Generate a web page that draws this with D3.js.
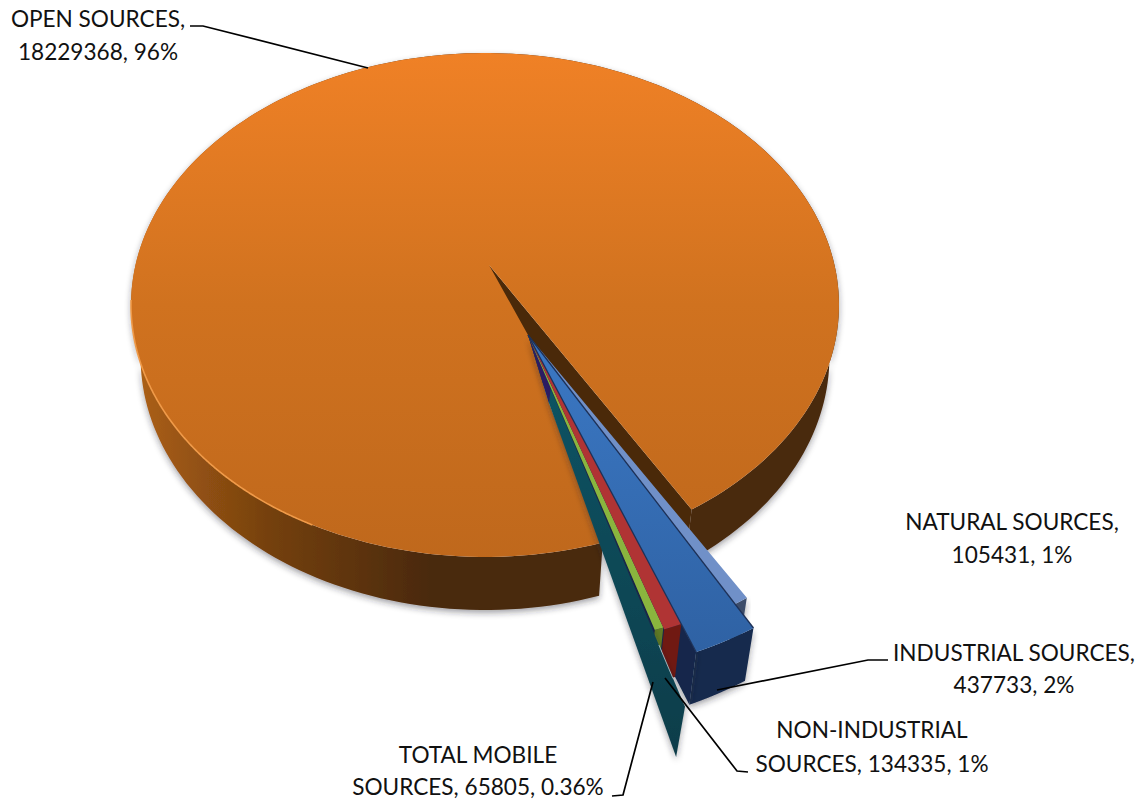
<!DOCTYPE html>
<html>
<head>
<meta charset="utf-8">
<script src="https://cdn.jsdelivr.net/npm/d3@7/dist/d3.min.js"></script>
<style>
  html, body { margin: 0; padding: 0; background: #fff; }
  svg { display: block; }
  text { font-family: Lato, "Open Sans", sans-serif; font-size: 22.6px; fill: #111; text-anchor: middle; }
</style>
</head>
<body>
<svg id="chart" width="1138" height="802"></svg>
<script>
// Emission totals by source group, in the order they run clockwise round the pie.
const categories = ["NATURAL SOURCES", "INDUSTRIAL SOURCES", "NON-INDUSTRIAL SOURCES", "TOTAL MOBILE SOURCES", "OPEN SOURCES"];
const values = [105431, 437733, 134335, 65805, 18229368];
const labelLines = [
  ["NATURAL SOURCES,", "105431, 1%"],
  ["INDUSTRIAL SOURCES,", "437733, 2%"],
  ["NON-INDUSTRIAL", "SOURCES, 134335, 1%"],
  ["TOTAL MOBILE", "SOURCES, 65805, 0.36%"],
  ["OPEN SOURCES,", "18229368, 96%"]
];

// Perspective camera for the tilted disc: Y runs away from the viewer, d runs down the extrusion.
const cam = { cx: 489, cy: 265, k: 0.1587, kz: 0.027, sz: 54 };
const sxScale = d3.scaleLinear().domain([-1, 1]).range([-349.5, 349.5]);
const syScale = d3.scaleLinear().domain([-1, 1]).range([-245.6, 245.6]);
function project(X, Y, d = 0, shiftX = 0) {
  const w = 1 + cam.k * Y + cam.kz * d;
  return [cam.cx + shiftX + sxScale(X) / w, cam.cy - (syScale(Y) - cam.sz * d) / w];
}

// Pie layout, rotated so the small slices fall at the lower right.
const rad = deg => deg * Math.PI / 180;
const firstAngle = 149.3;
const arcs = d3.pie().value(d => d).sort(null)
  .startAngle(rad(firstAngle)).endAngle(rad(firstAngle + 360))(values);

// Offset and radius of each slice in disc units.
const burst = { X: 0.1068, Y: -0.2727 };
const radii = [0.98, 1.054, 0.975, 0.97];
const rimShift = -4;

const polar = (a, r, o) => [o.X + r * Math.sin(a), o.Y + r * Math.cos(a)];
const at = (a, r, o, d = 0, s = 0) => { const p = polar(a, r, o); return project(p[0], p[1], d, s); };
const line = d3.line();
const closed = pts => line(pts) + "Z";
const samples = d3.range(0, 241).map(i => i / 240);
const arcPoints = (a0, a1, r, o, d = 0, s = 0) =>
  samples.map(t => at(a0 + (a1 - a0) * t, r, o, d, s));

const svg = d3.select("#chart");
const defs = svg.append("defs");

function gradient(id, attrs, stops) {
  const g = defs.append("linearGradient").attr("id", id).attr("gradientUnits", "userSpaceOnUse");
  Object.entries(attrs).forEach(([k, v]) => g.attr(k, v));
  stops.forEach(([o, c]) => g.append("stop").attr("offset", o).attr("stop-color", c));
}
gradient("openTop", { x1: 0, y1: 50, x2: 0, y2: 560 }, [[0, "#f08126"], [0.5, "#d0721f"], [1, "#bf681c"]]);
gradient("openWall", { x1: 140, y1: 0, x2: 430, y2: 0 }, [[0, "#ab5f15"], [0.45, "#74400f"], [1, "#4a2909"]]);
gradient("tealFace", { x1: 0, y1: 335, x2: 0, y2: 757 }, [[0, "#0f5666"], [1, "#0f3d4a"]]);
gradient("blueFace", { x1: 0, y1: 335, x2: 0, y2: 650 }, [[0, "#3b78c4"], [1, "#2f62a4"]]);

const shadow = defs.append("filter").attr("id", "shadow")
  .attr("x", "-20%").attr("y", "-20%").attr("width", "140%").attr("height", "140%");
shadow.append("feDropShadow").attr("dx", 0).attr("dy", 3).attr("stdDeviation", 3)
  .attr("flood-color", "#20242c").attr("flood-opacity", 0.42);
const soften = defs.append("filter").attr("id", "soften");
soften.append("feGaussianBlur").attr("stdDeviation", 0.7);

const chart = svg.append("g");
const draw = (pts, fill, extra = {}) => {
  const p = chart.append("path").attr("d", closed(pts)).attr("fill", fill);
  Object.entries(extra).forEach(([k, v]) => p.attr(k, v));
  return p;
};

// Points along the exposed side of the mobile slice, shared with the top face of the large slice.
const mob = arcs[3];
const apex = project(burst.X, burst.Y);
const tailNear = at(mob.endAngle + rad(0.3), 1.174, burst);
const tailFar = at(mob.endAngle + rad(3.1), 1.283, burst);
const tailBend = at(rad(168.2), 0.248, burst);

// The large slice: extruded rim, the cut face exposed by the gap, then the top face,
// which runs right up to the side of the burst slices near their shared point.
const open = arcs[4];
const centre = { X: 0, Y: 0 };
const rimTop = arcPoints(open.startAngle, open.endAngle, 1, centre, 0, rimShift);
const rimBottom = arcPoints(open.startAngle, open.endAngle, 1, centre, 1, rimShift);
draw(rimTop.concat(rimBottom.slice().reverse()), "url(#openWall)", { filter: "url(#shadow)" });
draw([
  project(0, 0),
  rimTop[rimTop.length - 1],
  rimBottom[rimBottom.length - 1],
  project(0, 0, 1)
], "#4a2909");
draw([apex, tailBend].concat(rimTop, [project(0, 0)]), "url(#openTop)");
chart.append("path")
  .attr("d", line(arcPoints(rad(205), rad(262), 1, centre, 0, rimShift)))
  .attr("fill", "none").attr("stroke", "#f09a48").attr("stroke-width", 1.6)
  .attr("filter", "url(#soften)");

// Outer wall and wedge outline shared by the small slices.
const wall = i => {
  const a = arcs[i];
  return arcPoints(a.startAngle, a.endAngle, radii[i], burst, 0)
    .concat(arcPoints(a.startAngle, a.endAngle, radii[i], burst, 1).reverse());
};
const wedge = i => {
  const a = arcs[i];
  return [project(burst.X, burst.Y)].concat(arcPoints(a.startAngle, a.endAngle, radii[i], burst));
};

// Natural sources sits behind the rest.
draw(wall(0), "#3c4d6b", { filter: "url(#shadow)" });
draw(wedge(0), "#7090c8");

// Industrial sources: the outer wall and the part of the cut face not hidden by the thin slices.
const ind = arcs[1];
draw(wall(1), "#13294e", { filter: "url(#shadow)" });
draw([
  project(burst.X, burst.Y),
  at(ind.endAngle, radii[1], burst),
  at(ind.endAngle, radii[1], burst, 1),
  at(ind.endAngle, 0.62, burst, 1)
], "#12284c", { filter: "url(#shadow)" });

// Outer walls of the two thin slices.
draw(wall(2), "#701912");
draw(wall(3), "#5f7a25");

// Exposed side of the mobile slice, which stretches past the others.
draw([apex, tailBend, tailFar, tailNear], "url(#tealFace)", { filter: "url(#shadow)" });
chart.append("path")
  .attr("d", line([at(mob.endAngle + rad(0.3), 1.01, burst), at(mob.endAngle + rad(0.3), 1.1, burst)]))
  .attr("stroke", "#a9c2c8").attr("stroke-width", 0.9).attr("fill", "none");
draw([apex, tailBend, at(mob.endAngle, 0.2, burst)], "#2b1c62");

// Top faces of the small slices.
draw(wedge(3), "#8ab53e");
draw(wedge(2), "#b03434");
draw(wedge(1), "url(#blueFace)");
[ind.startAngle, ind.endAngle].forEach(a => {
  chart.append("path")
    .attr("d", line([apex, at(a, radii[1], burst)]))
    .attr("stroke", "#1d3158").attr("stroke-width", 1.3).attr("fill", "none");
});

// Leader lines from labels to slices.
const leaders = [
  [[190, 26], [203, 26], [368, 68]],
  [[888, 660], [868, 660], [717, 690]],
  [[748, 772], [737, 771], [665, 678]],
  [[612, 796], [623, 795], [653, 682]]
];
svg.append("g").selectAll("path").data(leaders).join("path")
  .attr("d", d => line(d))
  .attr("fill", "none").attr("stroke", "#000").attr("stroke-width", 1.7);

// Label centres and baselines, in the same order as categories.
const labelAnchors = [
  { x: 1012, y: [530, 563] },
  { x: 1014, y: [661, 693] },
  { x: 872, y: [738, 772] },
  { x: 478, y: [763, 795] },
  { x: 98, y: [27, 60] }
];
const labels = svg.append("g");
categories.forEach((name, i) => {
  labelLines[i].forEach((t, j) => {
    labels.append("text").attr("x", labelAnchors[i].x).attr("y", labelAnchors[i].y[j]).text(t);
  });
});
</script>
</body>
</html>
